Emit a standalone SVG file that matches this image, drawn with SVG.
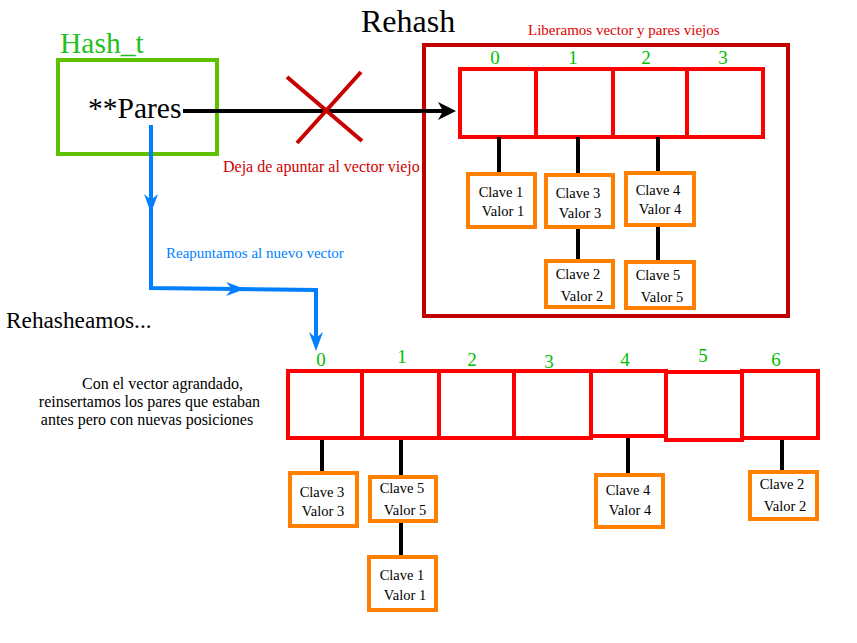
<svg xmlns="http://www.w3.org/2000/svg" width="857" height="643" viewBox="0 0 857 643">
<style>
text{font-family:"Liberation Serif","Times New Roman",serif}
.cell{fill:#fff;stroke:#ff0000;stroke-width:4}
.pair{fill:#fff;stroke:#ff8000;stroke-width:4}
.pt{font-size:14.5px;fill:#000;text-anchor:middle}
.idx{font-size:19px;fill:#00c000;text-anchor:middle}
.link{stroke:#000;stroke-width:4;fill:none}
.blue{stroke:#007fff;stroke-width:4;fill:none}
</style>
<rect width="857" height="643" fill="#fff"/>
<g id="hash_t">
<rect x="58" y="60" width="159" height="94" fill="#fff" stroke="#5fc000" stroke-width="4"/>
<text x="60" y="53" font-size="29.5" fill="#22c022">Hash_t</text>
<text x="88" y="118" font-size="29.5" fill="#000">**Pares</text>
</g>
<g id="titles">
<text x="361" y="32" font-size="32" fill="#000">Rehash</text>
<text x="528" y="35" font-size="15" fill="#e00000">Liberamos vector y pares viejos</text>
<text x="223" y="172" font-size="16" fill="#d00000">Deja de apuntar al vector viejo</text>
<text x="166" y="258" font-size="15" fill="#007fff">Reapuntamos al nuevo vector</text>
<text x="6" y="328" font-size="23.3" fill="#000">Rehasheamos...</text>
<text font-size="16" fill="#000" text-anchor="middle"><tspan x="162.5" y="389">Con el vector agrandado,</tspan><tspan x="149.5" y="407">reinsertamos los pares que estaban</tspan><tspan x="147" y="425">antes pero con nuevas posiciones</tspan></text>
</g>
<g id="old_frame">
<rect x="424" y="45" width="364" height="271" fill="none" stroke="#c00000" stroke-width="4"/>
</g>
<g id="old_vector">
<rect class="cell" x="460" y="69" width="76" height="68"/>
<rect class="cell" x="536" y="69" width="77" height="68"/>
<rect class="cell" x="613" y="69" width="74" height="68"/>
<rect class="cell" x="687" y="69" width="76" height="68"/>
<text class="idx" x="495" y="64">0</text>
<text class="idx" x="573" y="64">1</text>
<text class="idx" x="646" y="64">2</text>
<text class="idx" x="723" y="64">3</text>
</g>
<g id="connectors">
<line x1="183" y1="111" x2="446" y2="111" stroke="#000" stroke-width="4"/>
<path d="M456 111 L438 102 L443 111 L438 120 Z" fill="#000"/>
<line x1="287" y1="77" x2="362" y2="141" stroke="#c80000" stroke-width="4"/>
<line x1="361" y1="72" x2="297" y2="143" stroke="#c80000" stroke-width="4"/>
<path class="blue" d="M151 125 L151 288 L316 290 L316 340"/>
<path d="M151 213 L144 194 L151 200 L158 194 Z" fill="#007fff"/>
<path d="M245 289 L226 282 L232 289 L226 296 Z" fill="#007fff"/>
<path d="M316 351 L309 332 L316 338 L323 332 Z" fill="#007fff"/>
<line class="link" x1="499" y1="137" x2="499" y2="174"/>
<line class="link" x1="578" y1="137" x2="578" y2="175"/>
<line class="link" x1="658" y1="137" x2="658" y2="173"/>
<line class="link" x1="578" y1="227" x2="578" y2="261"/>
<line class="link" x1="658" y1="225" x2="658" y2="262"/>
<line class="link" x1="322" y1="438" x2="322" y2="472"/>
<line class="link" x1="401" y1="438" x2="401" y2="477"/>
<line class="link" x1="401" y1="521" x2="401" y2="557"/>
<line class="link" x1="628" y1="436" x2="628" y2="475"/>
<line class="link" x1="782" y1="438" x2="782" y2="472"/>
</g>
<g id="old_c1"><rect class="pair" x="468" y="174" width="67" height="53"/><text class="pt" x="501" y="197">Clave 1</text><text class="pt" x="503" y="216">Valor 1</text></g>
<g id="old_c3"><rect class="pair" x="546" y="175" width="67" height="52"/><text class="pt" x="578" y="198">Clave 3</text><text class="pt" x="580" y="218">Valor 3</text></g>
<g id="old_c4"><rect class="pair" x="626" y="173" width="68" height="52"/><text class="pt" x="658" y="195">Clave 4</text><text class="pt" x="660" y="214">Valor 4</text></g>
<g id="old_c2"><rect class="pair" x="546" y="261" width="67" height="46"/><text class="pt" x="578" y="279">Clave 2</text><text class="pt" x="582" y="301">Valor 2</text></g>
<g id="old_c5"><rect class="pair" x="626" y="262" width="68" height="46"/><text class="pt" x="658" y="280">Clave 5</text><text class="pt" x="662" y="302">Valor 5</text></g>
<g id="new_vector">
<rect class="cell" x="288" y="371" width="74" height="67"/>
<rect class="cell" x="362" y="371" width="77" height="67"/>
<rect class="cell" x="439" y="371" width="75" height="67"/>
<rect class="cell" x="514" y="371" width="77" height="67"/>
<rect class="cell" x="591" y="371" width="75" height="65"/>
<rect class="cell" x="666" y="372" width="76" height="68"/>
<rect class="cell" x="742" y="371" width="76" height="67"/>
<text class="idx" x="321" y="366">0</text>
<text class="idx" x="402" y="363">1</text>
<text class="idx" x="472" y="366">2</text>
<text class="idx" x="549" y="368">3</text>
<text class="idx" x="625" y="366">4</text>
<text class="idx" x="703" y="362">5</text>
<text class="idx" x="776" y="366">6</text>
</g>
<g id="new_c3"><rect class="pair" x="290" y="473" width="67" height="53"/><text class="pt" x="322" y="497">Clave 3</text><text class="pt" x="323" y="516">Valor 3</text></g>
<g id="new_c5"><rect class="pair" x="370" y="477" width="66" height="44"/><text class="pt" x="402" y="493">Clave 5</text><text class="pt" x="405" y="515">Valor 5</text></g>
<g id="new_c1"><rect class="pair" x="369" y="557" width="67" height="53"/><text class="pt" x="402" y="580">Clave 1</text><text class="pt" x="405" y="600">Valor 1</text></g>
<g id="new_c4"><rect class="pair" x="596" y="475" width="67" height="52"/><text class="pt" x="628" y="495">Clave 4</text><text class="pt" x="630" y="515">Valor 4</text></g>
<g id="new_c2"><rect class="pair" x="750" y="472" width="67" height="47"/><text class="pt" x="782" y="489">Clave 2</text><text class="pt" x="785" y="511">Valor 2</text></g>
</svg>
